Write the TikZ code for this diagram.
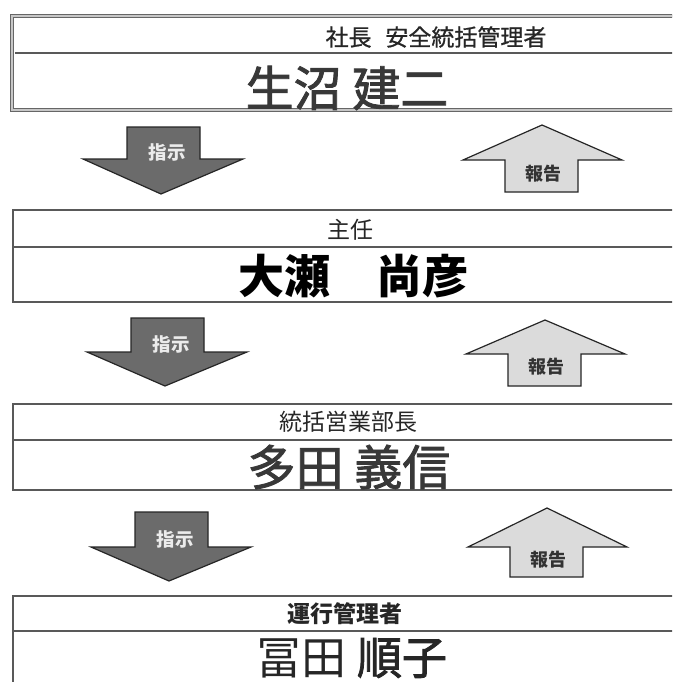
\documentclass[tikz,border=0pt]{standalone}
\usepackage{fontspec}
\setmainfont{Noto Sans CJK JP}
\newfontfamily\jpmed{Noto Sans CJK JP}[FakeBold=1.8]
\newfontfamily\jpsemi{Noto Sans CJK JP}[FakeBold=0.8]
\begin{document}
\begin{tikzpicture}[x=1pt,y=-1pt,
  frame/.style={draw=black!65,line width=1.3pt},
  sep/.style={draw=black!65,line width=1.3pt},
  hdr/.style={inner sep=0pt,text=black!85,font=\fontsize{23}{26}\selectfont},
  nm/.style={inner sep=0pt,text=black!78,font=\jpmed\fontsize{48}{52}\selectfont},
  downarr/.style={fill=black!58,draw=black!85,line width=1.2pt,line join=miter},
  uparr/.style={fill=black!14,draw=black!85,line width=1.2pt,line join=miter},
  dlab/.style={inner sep=0pt,text=black!8,font=\bfseries\fontsize{18.5}{20}\selectfont},
  ulab/.style={inner sep=0pt,text=black!80,font=\bfseries\fontsize{18}{20}\selectfont}]
\useasboundingbox (0,0) rectangle (672,682);
\fill[white] (0,0) rectangle (672,682);
\clip (0,0) rectangle (672,682);

% box 1
\draw[draw=black!60,line width=1pt,double=black!22,double distance=2.5pt] (12,16) rectangle (700,110);
\draw[sep] (15,53) -- (700,53);
\node[hdr,font=\jpsemi\fontsize{23}{26}\selectfont] (t1) at (436,37) {社長\hspace{0.6em}安全統括管理者};
\node[nm] (n1) at (347,88) {生沼 建二};

% arrows row 1
\draw[downarr] (127,127) -- (200,127) -- (200,159) -- (243,159) -- (161,194) -- (83,159) -- (127,159) -- cycle;
\node[dlab] (d1) at (167,152) {指示};
\draw[uparr] (542,125) -- (622,160) -- (578,160) -- (578,192) -- (505,192) -- (505,160) -- (463,160) -- cycle;
\node[ulab] (u1) at (543,174) {報告};

% box 2
\draw[frame] (13,210) rectangle (700,302);
\draw[sep] (13,247) -- (700,247);
\node[hdr] (t2) at (350,230) {主任};
\node[nm,text=black,font=\bfseries\fontsize{46}{50}\selectfont] (n2) at (353,276) {大瀬　尚彦};

% arrows row 2
\draw[downarr] (131,318) -- (204,318) -- (204,352) -- (247,352) -- (165,386) -- (87,352) -- (131,352) -- cycle;
\node[dlab] (d2) at (171,344) {指示};
\draw[uparr] (545,320) -- (625,354) -- (581,354) -- (581,386) -- (508,386) -- (508,354) -- (466,354) -- cycle;
\node[ulab] (u2) at (546,367) {報告};

% box 3
\draw[frame] (13,404) rectangle (700,490);
\draw[sep] (13,440) -- (700,440);
\node[hdr] (t3) at (348,422) {統括営業部長};
\node[nm] (n3) at (349,467) {多田 義信};

% arrows row 3
\draw[downarr] (135,512) -- (208,512) -- (208,547) -- (251,547) -- (169,581) -- (91,547) -- (135,547) -- cycle;
\node[dlab] (d3) at (175,539) {指示};
\draw[uparr] (547,508) -- (627,547) -- (583,547) -- (583,577) -- (510,577) -- (510,547) -- (468,547) -- cycle;
\node[ulab] (u3) at (548,560) {報告};

% box 4
\draw[frame] (13,596) rectangle (700,720);
\draw[sep] (13,631) -- (700,631);
\node[hdr,font=\bfseries\fontsize{23}{26}\selectfont] (t4) at (345,614) {運行管理者};
\node[nm,text=black!85,font=\fontsize{45}{49}\selectfont] (n4) at (352,658) {冨田 {\jpmed 順子}};
\end{tikzpicture}
\end{document}
